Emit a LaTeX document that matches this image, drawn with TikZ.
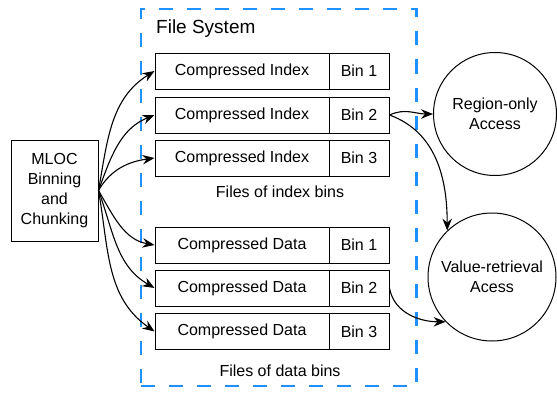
\documentclass[tikz,border=0pt]{standalone}
\usepackage{fontspec}
\setmainfont{Liberation Sans}
\usetikzlibrary{arrows.meta}
\definecolor{fsblue}{RGB}{30,144,255}
\begin{document}
\begin{tikzpicture}[x=1pt,y=1pt,
  txt/.style={font=\fontsize{16}{20}\selectfont},
  cbox/.style={txt, draw, line width=1pt, minimum width=174pt, minimum height=36pt, inner sep=0pt},
  bbox/.style={txt, draw, line width=1pt, minimum width=60pt, minimum height=36pt, inner sep=0pt},
  circ/.style={txt, draw, line width=1pt, circle, align=center, inner sep=0pt},
  frame/.style={draw=fsblue, line width=2.6pt, dash pattern=on 14pt off 14pt},
  arr/.style={line width=1.1pt, -{Stealth[length=12pt,width=9.5pt,inset=4pt]}}]
\useasboundingbox (0,0) rectangle (557,392);
% frame
\node[frame, minimum width=275.5pt, minimum height=377pt, inner sep=0pt] (fs) at (278.75,194.5) {};
\node[anchor=base west, inner sep=0pt, font=\fontsize{19}{23}\selectfont] (title) at (156,358.5) {File System};
% index files
\node[cbox] (ci1) at (242,321) {Compressed Index};
\node[bbox] (bi1) at (359,321) {Bin 1};
\node[cbox] (ci2) at (242,277) {Compressed Index};
\node[bbox] (bi2) at (359,277) {Bin 2};
\node[cbox] (ci3) at (242,234) {Compressed Index};
\node[bbox] (bi3) at (359,234) {Bin 3};
\node[txt, inner sep=0pt] (li) at (280,200) {Files of index bins};
% data files
\node[cbox] (cd1) at (242,147) {Compressed Data};
\node[bbox] (bd1) at (359,147) {Bin 1};
\node[cbox] (cd2) at (242,104) {Compressed Data};
\node[bbox] (bd2) at (359,104) {Bin 2};
\node[cbox] (cd3) at (242,60.5) {Compressed Data};
\node[bbox] (bd3) at (359,60.5) {Bin 3};
\node[txt, inner sep=0pt] (ld) at (280,21) {Files of data bins};
% MLOC
\node[txt, draw, line width=1pt, minimum width=87pt, minimum height=101pt, align=center, inner sep=0pt] (mloc) at (54.5,201.5) {MLOC\\Binning\\and\\Chunking};
% circles
\node[circ, minimum size=123pt] (reg) at (495,278) {Region-only\\Access};
\node[circ, minimum size=128pt] (val) at (492,115) {Value-retrieval\\Acess};
% arrows from MLOC
\draw[arr] (mloc.east) to[out=80,in=212] (ci1.west);
\draw[arr] (mloc.east) to[out=70,in=202] (ci2.west);
\draw[arr] (mloc.east) to[out=60,in=188] (ci3.west);
\draw[arr] (mloc.east) to[out=-60,in=170] (cd1.west);
\draw[arr] (mloc.east) to[out=-70,in=150] (cd2.west);
\draw[arr] (mloc.east) to[out=-80,in=145] (cd3.west);
% arrows to access
\draw[arr] (bi2.east) to[out=25,in=180] (reg.west);
\draw[arr] (bi2.east) to[out=-20,in=90] (val.134);
\draw[arr] (bd2.east) to[out=-80,in=180] (val.224);
\end{tikzpicture}
\end{document}
